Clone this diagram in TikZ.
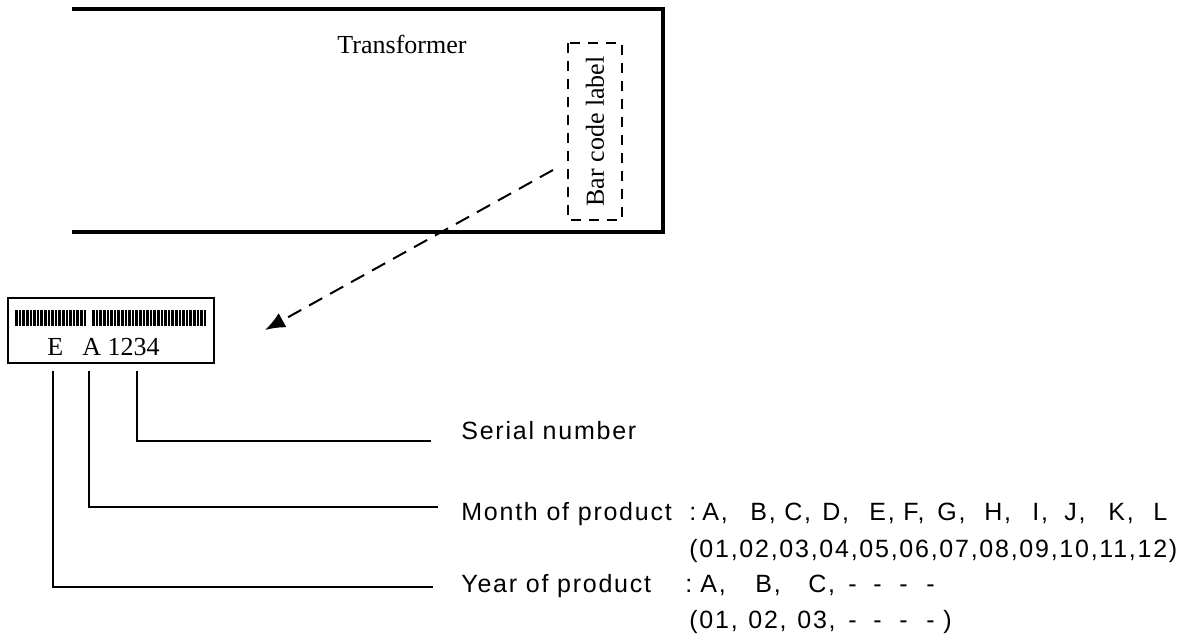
\documentclass[tikz,border=0pt]{standalone}
\usepackage{fontspec}
\setmainfont{Liberation Serif}
\newfontfamily\labelsans[LetterSpace=7]{Liberation Sans}
\usepackage{tikz}
\usetikzlibrary{arrows.meta, positioning, calc}
\newcommand{\itm}[2]{\makebox[#1][l]{#2}}

\begin{document}
\begin{tikzpicture}[x=0.5pt, y=-0.5pt,
                serif/.style={font=\fontsize{13}{15}\selectfont, inner sep=0pt},
                sans/.style={font=\labelsans\fontsize{12.5}{15}\selectfont, inner sep=0pt, anchor=base west},
                leader/.style={line width=0.9pt},
                tagbox/.style={draw, line width=1pt, dash pattern=on 5pt off 4pt, rotate=90,
                               minimum width=88.5pt, minimum height=27pt, inner sep=0pt},
                pointer/.style={line width=1pt, dash pattern=on 7.5pt off 4.5pt, -{Latex[length=10pt, width=8pt]}}]
                \useasboundingbox (0,0) rectangle (1191,639);
                \draw[line width=1.75pt] (72,9) -- (663,9) -- (663,232) -- (72,232);
                \node[serif, anchor=base] (transformer) at (402,53) {Transformer};
                \node[tagbox, serif] (tag) at (595,131.5) {Bar code label};
                \node[draw, line width=0.75pt, minimum width=103pt, minimum height=32.5pt, inner sep=0pt] (barlabel) at (111,330.5) {};
                \foreach \i in {0,...,19} \fill ($(barlabel.north west)+(8+3.6*\i,13)$) rectangle ++(2.6,16);
                \foreach \i in {0,...,31} \fill ($(barlabel.north west)+(85+3.6*\i,13)$) rectangle ++(2.6,16);
                \node[serif, anchor=base west] (code) at (47,355) {\itm{17.5pt}{E}A 1234};
                \coordinate (arrowstart) at (553,170);
                \coordinate (arrowtip) at (265,330);
                \draw[pointer] (arrowstart) -- (arrowtip);
                \node[sans] (serial) at (461,439) {Serial number};
                \node[sans] (month) at (461,520) {Month of product};
                \node[sans] (monthlist) at (689,520) {\itm{6.5pt}{:}\itm{24pt}{A,}\itm{17pt}{B,}\itm{19pt}{C,}\itm{23.5pt}{D,}\itm{17pt}{E,}\itm{17pt}{F,}\itm{23.5pt}{G,}\itm{24pt}{H,}\itm{16pt}{I,}\itm{22pt}{J,}\itm{22.5pt}{K,}L};
                \node[sans] (monthnum) at (689,557) {(01,02,03,04,05,06,07,08,09,10,11,12)};
                \node[sans] (year) at (461,592) {Year of product};
                \node[sans] (yearlist) at (685,592) {\itm{7.5pt}{:}\itm{27.5pt}{A,}\itm{26.5pt}{B,}\itm{20pt}{C,}\itm{12.5pt}{-}\itm{13pt}{-}\itm{13.5pt}{-}-};
                \node[sans] (yearnum) at (689,628) {\itm{29.5pt}{(01,}\itm{24.5pt}{02,}\itm{25.5pt}{03,}\itm{12.5pt}{-}\itm{13pt}{-}\itm{13.5pt}{-}\itm{8.5pt}{-})};
                \coordinate (serialtop) at (137,371);
                \coordinate (monthtop) at (89,371);
                \coordinate (yeartop) at (53,371);
                \coordinate (serialend) at (431,441);
                \coordinate (monthend) at (438,507);
                \coordinate (yearend) at (433,587);
                \draw[leader] (serialtop) |- (serialend);
                \draw[leader] (monthtop) |- (monthend);
                \draw[leader] (yeartop) |- (yearend);
            \end{tikzpicture}
\end{document}
